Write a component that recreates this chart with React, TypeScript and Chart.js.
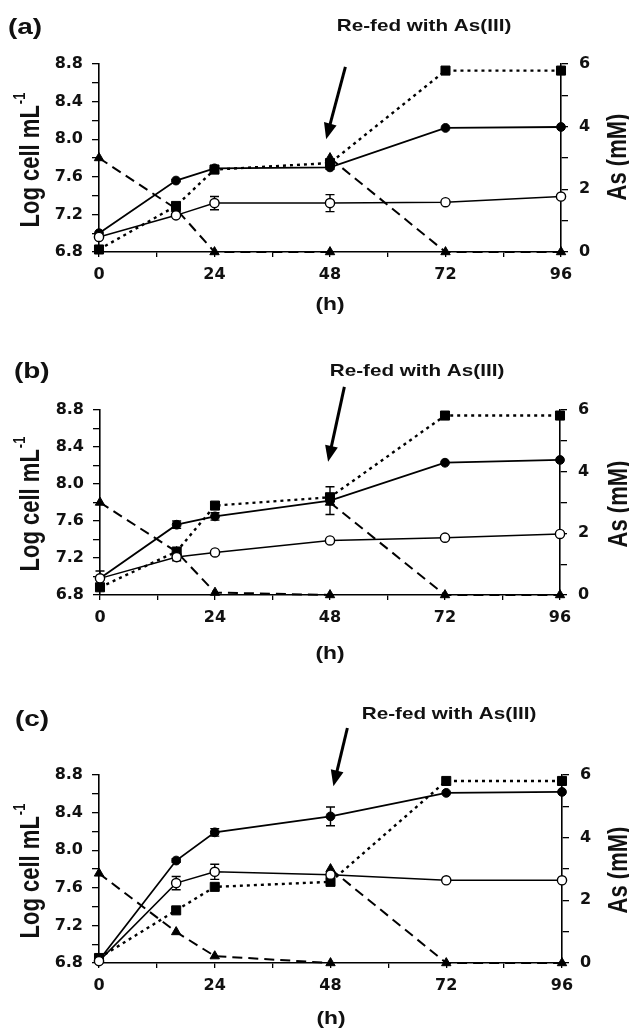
import React, { useEffect, useRef } from "react";
import { Chart, registerables } from "chart.js";

Chart.register(...registerables);

// ---------------- DATA ----------------
const hours = [0, 16, 24, 48, 72, 96];
const xMin = 0;
const xMax = 96;
const xTickStep = 12;
const xLabelStep = 24;
const cellMin = 6.8;
const cellMax = 8.8;
const cellStep = 0.2;
const asMin = 0;
const asMax = 6;
const asStep = 1;

// Panel (a)
const aCells = [7.0, 7.56, 7.69, 7.7, 8.12, 8.13];
const aCellsErr = [0, 0.01, 0.03, 0.02, 0, 0];
const aCellsOpen = [6.96, 7.19, 7.32, 7.32, 7.33, 7.39];
const aCellsOpenErr = [0, 0, 0.07, 0.09, 0, 0];
const aAsV = [0.08, 1.47, 2.63, 2.84, 5.79, 5.79];
const aAsIIIHours = [0, 16, 24, 48, 48, 48, 72, 96];
const aAsIII = [3.0, 1.38, 0, 0, null, 3.0, 0, 0];
const aArrowTail = [51.2, 8.77];
const aArrowTip = [47.2, 8.0];

// Panel (b)
const bCells = [6.98, 7.56, 7.65, 7.82, 8.23, 8.26];
const bCellsErr = [0.08, 0.04, 0.04, 0.15, 0, 0];
const bCellsOpen = [6.98, 7.21, 7.26, 7.39, 7.42, 7.46];
const bCellsOpenErr = [0, 0.04, 0, 0, 0, 0];
const bAsV = [0.25, 1.41, 2.9, 3.17, 5.82, 5.82];
const bAsIIIHours = [0, 16, 24, 48, 48, 48, 72, 96];
const bAsIII = [3.0, 1.4, 0.08, 0, null, 3.0, 0, 0];
const bArrowTail = [51.0, 9.05];
const bArrowTip = [47.6, 8.24];

// Panel (c)
const cCells = [6.83, 7.89, 8.19, 8.36, 8.61, 8.62];
const cCellsErr = [0, 0.02, 0.04, 0.1, 0, 0];
const cCellsOpen = [6.82, 7.65, 7.77, 7.74, 7.68, 7.68];
const cCellsOpenErr = [0, 0.07, 0.08, 0, 0, 0];
const cAsV = [0.16, 1.68, 2.43, 2.59, 5.81, 5.81];
const cAsIIIHours = [0, 16, 24, 48, 48, 48, 72, 96];
const cAsIII = [2.86, 0.99, 0.22, 0, null, 3.0, 0, 0];
const cArrowTail = [51.5, 9.3];
const cArrowTip = [48.6, 8.68];

const noteText = "Re-fed with As(III)";
const leftTitle = "Log cell mL";
const leftTitleSup = "-1";
const rightTitle = "As (mM)";
const xTitle = "(h)";

// ---------------- LAYOUT ----------------
const W = 629;
const STRETCH = 1.27;
const INK = "#111";
const TXT = "Liberation Sans, Arial, sans-serif";

type Layout = {
  top: number; h: number; left: number; right: number; areaTop: number; areaBottom: number;
  letter: string; letterX: number; letterY: number; noteX: number; noteY: number;
  lTitleX: number; lTitleY: number; rTitleX: number; rTitleY: number; hX: number; hY: number;
};

const layoutA: Layout = {
  top: 0, h: 330, left: 99, right: 561, areaTop: 64, areaBottom: 252,
  letter: "(a)", letterX: 8, letterY: 28, noteX: 424, noteY: 27,
  lTitleX: 31, lTitleY: 160, rTitleX: 618, rTitleY: 157, hX: 330, hY: 305,
};
const layoutB: Layout = {
  top: 330, h: 350, left: 100, right: 560, areaTop: 410, areaBottom: 595,
  letter: "(b)", letterX: 14, letterY: 372, noteX: 417, noteY: 372,
  lTitleX: 31, lTitleY: 504, rTitleX: 619, rTitleY: 504, hX: 330, hY: 654,
};
const layoutC: Layout = {
  top: 680, h: 350, left: 99, right: 562, areaTop: 775, areaBottom: 963,
  letter: "(c)", letterX: 15, letterY: 720, noteX: 449, noteY: 715,
  lTitleX: 31, lTitleY: 871, rTitleX: 619, rTitleY: 870, hX: 331, hY: 1019,
};

type Series = {
  cells: number[]; cellsErr: number[]; open: number[]; openErr: number[];
  asV: number[]; asIIIHours: number[]; asIII: (number | null)[];
  tail: number[]; tip: number[];
};

const seriesA: Series = { cells: aCells, cellsErr: aCellsErr, open: aCellsOpen, openErr: aCellsOpenErr, asV: aAsV, asIIIHours: aAsIIIHours, asIII: aAsIII, tail: aArrowTail, tip: aArrowTip };
const seriesB: Series = { cells: bCells, cellsErr: bCellsErr, open: bCellsOpen, openErr: bCellsOpenErr, asV: bAsV, asIIIHours: bAsIIIHours, asIII: bAsIII, tail: bArrowTail, tip: bArrowTip };
const seriesC: Series = { cells: cCells, cellsErr: cCellsErr, open: cCellsOpen, openErr: cCellsOpenErr, asV: cAsV, asIIIHours: cAsIIIHours, asIII: cAsIII, tail: cArrowTail, tip: cArrowTip };

function drawStretched(ctx: CanvasRenderingContext2D, text: string, x: number, y: number, font: string, align: CanvasTextAlign) {
  ctx.save();
  ctx.translate(x, y);
  ctx.scale(STRETCH, 1);
  ctx.font = font;
  ctx.fillStyle = INK;
  ctx.textAlign = align;
  ctx.textBaseline = "middle";
  ctx.fillText(text, 0, 0);
  ctx.restore();
}

function drawRotated(ctx: CanvasRenderingContext2D, cx: number, cy: number, main: string, sup: string | null) {
  const mainFont = `bold 22px ${TXT}`;
  const supFont = `bold 13px ${TXT}`;
  ctx.save();
  ctx.translate(cx, cy);
  ctx.scale(STRETCH, 1);
  ctx.rotate(-Math.PI / 2);
  ctx.fillStyle = INK;
  ctx.textBaseline = "middle";
  ctx.textAlign = "left";
  ctx.font = mainFont;
  const w1 = ctx.measureText(main).width;
  let w2 = 0;
  if (sup) {
    ctx.font = supFont;
    w2 = ctx.measureText(sup).width + 1;
  }
  const start = -(w1 + w2) / 2;
  ctx.font = mainFont;
  ctx.fillText(main, start, 0);
  if (sup) {
    ctx.font = supFont;
    ctx.fillText(sup, start + w1 + 1, -8);
  }
  ctx.restore();
}

function makeOverlay(L: Layout, S: Series) {
  const off = L.top;
  return {
    id: "overlay",
    beforeDatasetsDraw(chart: any) {
      const ctx = chart.ctx as CanvasRenderingContext2D;
      const ys = chart.scales.y;
      const sets = [
        { index: 0, values: S.open, err: S.openErr },
        { index: 2, values: S.cells, err: S.cellsErr },
      ];
      ctx.save();
      ctx.strokeStyle = "#000";
      ctx.lineWidth = 1.4;
      sets.forEach(({ index, values, err }) => {
        const meta = chart.getDatasetMeta(index);
        meta.data.forEach((el: any, j: number) => {
          const e = err[j];
          if (!e) return;
          const x = el.x;
          const yt = ys.getPixelForValue(values[j] + e);
          const yb = ys.getPixelForValue(values[j] - e);
          ctx.beginPath();
          ctx.moveTo(x, yt); ctx.lineTo(x, yb);
          ctx.moveTo(x - 4.5, yt); ctx.lineTo(x + 4.5, yt);
          ctx.moveTo(x - 4.5, yb); ctx.lineTo(x + 4.5, yb);
          ctx.stroke();
        });
      });
      ctx.restore();
    },
    afterDraw(chart: any) {
      const ctx = chart.ctx as CanvasRenderingContext2D;
      const xs = chart.scales.x;
      const ys = chart.scales.y;
      // arrow
      const x1 = xs.getPixelForValue(S.tail[0]);
      const y1 = ys.getPixelForValue(S.tail[1]);
      const x2 = xs.getPixelForValue(S.tip[0]);
      const y2 = ys.getPixelForValue(S.tip[1]);
      const ang = Math.atan2(y2 - y1, x2 - x1);
      const headLen = 16;
      const headW = 6.5;
      const bx = x2 - headLen * Math.cos(ang);
      const by = y2 - headLen * Math.sin(ang);
      ctx.save();
      ctx.strokeStyle = "#000";
      ctx.fillStyle = "#000";
      ctx.lineWidth = 3;
      ctx.beginPath();
      ctx.moveTo(x1, y1);
      ctx.lineTo(bx + 1 * Math.cos(ang), by + 1 * Math.sin(ang));
      ctx.stroke();
      ctx.beginPath();
      ctx.moveTo(x2, y2);
      ctx.lineTo(bx + headW * Math.sin(ang), by - headW * Math.cos(ang));
      ctx.lineTo(bx - headW * Math.sin(ang), by + headW * Math.cos(ang));
      ctx.closePath();
      ctx.fill();
      ctx.restore();
      // texts
      drawStretched(ctx, L.letter, L.letterX, L.letterY - off, `bold 22px ${TXT}`, "left");
      drawStretched(ctx, noteText, L.noteX, L.noteY - off, `bold 16.3px ${TXT}`, "center");
      drawStretched(ctx, xTitle, L.hX, L.hY - off, `bold 18px ${TXT}`, "center");
      drawRotated(ctx, L.lTitleX, L.lTitleY - off, leftTitle, leftTitleSup);
      drawRotated(ctx, L.rTitleX, L.rTitleY - off, rightTitle, null);
    },
  };
}

const tickFont = { family: '"DejaVu Sans", sans-serif', size: 16, weight: "bold" as const };

function makeConfig(L: Layout, S: Series): any {
  const pts = (xs: number[], ys: (number | null)[]) => xs.map((x, i) => ({ x, y: ys[i] }));
  return {
    type: "line",
    data: {
      datasets: [
        {
          label: "open",
          data: pts(hours, S.open),
          yAxisID: "y",
          borderColor: "#000",
          borderWidth: 1.5,
          pointStyle: "circle",
          pointRadius: 4.6,
          pointBackgroundColor: "#fff",
          pointBorderColor: "#000",
          pointBorderWidth: 1.4,
          clip: false,
        },
        {
          label: "asV",
          data: pts(hours, S.asV),
          yAxisID: "y2",
          borderColor: "#000",
          borderWidth: 2.4,
          borderDash: [3, 4],
          pointStyle: "rect",
          pointRadius: 6.4,
          pointBackgroundColor: "#000",
          pointBorderColor: "#000",
          pointBorderWidth: 1,
          clip: false,
        },
        {
          label: "cells",
          data: pts(hours, S.cells),
          yAxisID: "y",
          borderColor: "#000",
          borderWidth: 1.8,
          pointStyle: "circle",
          pointRadius: 4.4,
          pointBackgroundColor: "#000",
          pointBorderColor: "#000",
          pointBorderWidth: 1,
          clip: false,
        },
        {
          label: "asIII",
          data: pts(S.asIIIHours, S.asIII),
          yAxisID: "y2",
          borderColor: "#000",
          borderWidth: 2,
          borderDash: [10, 6],
          pointStyle: "triangle",
          pointRadius: 5.4,
          pointBackgroundColor: "#000",
          pointBorderColor: "#000",
          pointBorderWidth: 1,
          spanGaps: false,
          clip: false,
        },
      ],
    },
    options: {
      animation: false,
      responsive: true,
      maintainAspectRatio: false,
      events: [],
      elements: { line: { tension: 0 } },
      layout: { padding: { top: L.areaTop - L.top, left: 0, right: 0, bottom: 0 } },
      plugins: { legend: { display: false }, tooltip: { enabled: false }, title: { display: false } },
      scales: {
        x: {
          type: "linear",
          min: xMin,
          max: xMax,
          afterFit: (s: any) => { s.height = L.top + L.h - L.areaBottom; },
          ticks: {
            stepSize: xTickStep,
            autoSkip: false,
            maxRotation: 0,
            padding: 8,
            color: INK,
            font: tickFont,
            callback: (v: number) => (v % xLabelStep === 0 ? String(v) : ""),
          },
          grid: { drawOnChartArea: false, drawTicks: true, tickLength: 5, color: "#000", lineWidth: 1.3 },
          border: { display: true, color: "#000", width: 1.6 },
        },
        y: {
          type: "linear",
          position: "left",
          min: cellMin,
          max: cellMax,
          afterFit: (s: any) => { s.width = L.left; },
          ticks: {
            stepSize: cellStep,
            autoSkip: false,
            padding: 9,
            color: INK,
            font: tickFont,
            callback: (v: number) => (Math.round(v * 10) % 4 === 0 ? v.toFixed(1) : ""),
          },
          grid: { drawOnChartArea: false, drawTicks: true, tickLength: 7, color: "#000", lineWidth: 1.3 },
          border: { display: true, color: "#000", width: 1.6 },
        },
        y2: {
          type: "linear",
          position: "right",
          min: asMin,
          max: asMax,
          afterFit: (s: any) => { s.width = W - L.right; },
          ticks: {
            stepSize: asStep,
            autoSkip: false,
            padding: 11,
            color: INK,
            font: tickFont,
            callback: (v: number) => (Math.round(v) % 2 === 0 ? String(Math.round(v)) : ""),
          },
          grid: { drawOnChartArea: false, drawTicks: true, tickLength: 7, color: "#000", lineWidth: 1.3 },
          border: { display: true, color: "#000", width: 1.6 },
        },
      },
    },
    plugins: [makeOverlay(L, S)],
  };
}

function Panel({ layout, series }: { layout: Layout; series: Series }) {
  const ref = useRef<HTMLCanvasElement | null>(null);
  useEffect(() => {
    if (!ref.current) return;
    const chart = new Chart(ref.current, makeConfig(layout, series));
    return () => chart.destroy();
  }, [layout, series]);
  return (
    <div style={{ position: "absolute", left: 0, top: layout.top, width: W, height: layout.h }}>
      <canvas ref={ref} />
    </div>
  );
}

export default function App() {
  return (
    <div style={{ position: "absolute", left: 0, top: 0, width: W, height: 1030, background: "#fff", overflow: "hidden" }}>
      <Panel layout={layoutA} series={seriesA} />
      <Panel layout={layoutB} series={seriesB} />
      <Panel layout={layoutC} series={seriesC} />
    </div>
  );
}
